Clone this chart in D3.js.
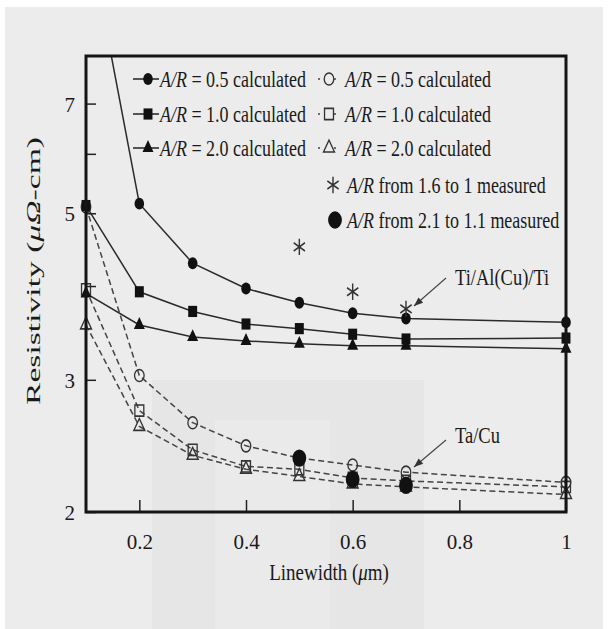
<!DOCTYPE html>
<head>
    <meta charset="utf-8">
    <title>Resistivity vs Linewidth</title>
    <script type="text/javascript" src="https://d3js.org/d3.v7.min.js"></script>
    <style>
        body { margin: 0; background: #fff; }
        svg { display: block; }
        text { font-family: "Liberation Serif", "Times New Roman", serif; fill: #1a1a1a; }
    </style>
</head>

<body>
    <div id="container"></div>
    <script>
        //------------------------1. DATA------------------------//
        var linewidth = [0.1, 0.2, 0.3, 0.4, 0.5, 0.6, 0.7, 1.0];
        // Ti/Al(Cu)/Ti, solid lines
        var tiAr05 = [12.2, 5.15, 4.29, 3.97, 3.80, 3.68, 3.62, 3.58];
        var tiAr10 = [5.12, 3.93, 3.70, 3.56, 3.51, 3.45, 3.40, 3.41];
        var tiAr20 = [3.91, 3.55, 3.42, 3.38, 3.35, 3.33, 3.33, 3.30];
        // Ta/Cu, dashed lines
        var taAr05 = [5.10, 3.04, 2.63, 2.45, 2.36, 2.31, 2.26, 2.19];
        var taAr10 = [3.96, 2.73, 2.42, 2.30, 2.28, 2.22, 2.20, 2.16];
        var taAr20 = [3.55, 2.60, 2.38, 2.28, 2.23, 2.18, 2.16, 2.11];
        // measured
        var starX = [0.5, 0.6, 0.7];
        var starY = [4.51, 3.93, 3.73];
        var dotX = [0.5, 0.6, 0.7];
        var dotY = [2.36, 2.21, 2.17];

        var xTicks = [0.2, 0.4, 0.6, 0.8, 1];
        var yTicks = [2, 3, 4, 5, 6, 7];
        var yLabels = [2, 3, 5, 7];

        var legendLeft = ["0.5", "1.0", "2.0"];

        //------------------------2. PREPARATION------------------------//
        var W = 609, H = 629,
            margin = { top: 56, right: 43, bottom: 117, left: 86 },
            x = d3.scaleLinear().domain([0.1, 1]).range([margin.left, W - margin.right]),
            y = d3.scaleLog().domain([2, 8.1]).range([H - margin.bottom, margin.top]),
            stretch = "scale(1,1.25)";

        var svg = d3.select("div#container").append("svg")
            .attr("width", W).attr("height", H)
            .attr("font-family", "Liberation Serif, serif");

        // scanned page background
        svg.append("rect").attr("x", 5).attr("y", 7).attr("width", W - 11).attr("height", H - 7)
            .attr("fill", "#ececec");
        svg.append("rect").attr("x", 152).attr("y", 380).attr("width", 272).attr("height", H - 380)
            .attr("fill", "#e6e6e6");
        svg.append("rect").attr("x", 215).attr("y", 420).attr("width", 115).attr("height", H - 420)
            .attr("fill", "#eaeaea");

        svg.append("clipPath").attr("id", "plotclip").append("rect")
            .attr("x", x(0.1)).attr("y", y(8.1))
            .attr("width", x(1) - x(0.1)).attr("height", y(2) - y(8.1));

        //------------------------3. MARKERS------------------------//
        function symbolPath(kind, big) {
            if (kind === "circle") return d3.symbol(d3.symbolCircle, big ? 150 : 72)();
            if (kind === "square") return d3.symbol(d3.symbolSquare, 80)();
            if (kind === "triangle") return d3.symbol(d3.symbolTriangle, 52)();
            return d3.symbol(d3.symbolAsterisk, 120)();
        }

        function addMarker(g, kind, open, px, py, big) {
            var p = g.append("path")
                .attr("d", symbolPath(kind, big))
                .attr("transform", "translate(" + px + "," + py + ") " + stretch);
            if (kind === "star") {
                p.attr("fill", "none").attr("stroke", "#333").attr("stroke-width", 1.4);
            } else if (open) {
                p.attr("fill", "none").attr("stroke", "#333").attr("stroke-width", 1.3);
            } else {
                p.attr("fill", "#111");
            }
        }

        //------------------------4. SERIES------------------------//
        var series = [
            { v: taAr05, kind: "circle", open: true },
            { v: taAr10, kind: "square", open: true },
            { v: taAr20, kind: "triangle", open: true },
            { v: tiAr05, kind: "circle", open: false },
            { v: tiAr10, kind: "square", open: false },
            { v: tiAr20, kind: "triangle", open: false }
        ];

        var line = d3.line()
            .x(function (d) { return x(d[0]); })
            .y(function (d) { return y(d[1]); });

        var plot = svg.append("g").attr("clip-path", "url(#plotclip)");
        series.forEach(function (s) {
            plot.append("path")
                .datum(linewidth.map(function (lw, i) { return [lw, s.v[i]]; }))
                .attr("d", line)
                .attr("fill", "none")
                .attr("stroke", s.open ? "#444" : "#2a2a2a")
                .attr("stroke-width", 1.5)
                .attr("stroke-dasharray", s.open ? "6,3.5" : null);
        });

        var marks = svg.append("g");
        series.forEach(function (s) {
            linewidth.forEach(function (lw, i) {
                if (s.v[i] > y.domain()[1]) return;
                addMarker(marks, s.kind, s.open, x(lw), y(s.v[i]));
            });
        });
        starX.forEach(function (d, i) { addMarker(marks, "star", false, x(d), y(starY[i])); });
        dotX.forEach(function (d, i) { addMarker(marks, "circle", false, x(d), y(dotY[i]), true); });

        //------------------------5. AXES------------------------//
        var yAxis = d3.axisLeft(y)
            .tickValues(yTicks)
            .tickSize(-10)
            .tickPadding(11)
            .tickFormat(function (d) { return yLabels.indexOf(d) >= 0 ? d : ""; });
        var gy = svg.append("g").attr("transform", "translate(" + margin.left + ",0)").call(yAxis);

        var xAxis = d3.axisBottom(x)
            .tickValues(xTicks)
            .tickSize(-12)
            .tickPadding(22)
            .tickFormat(function (d) { return String(d); });
        var gx = svg.append("g").attr("transform", "translate(0," + y(2) + ")").call(xAxis);

        [gy, gx].forEach(function (g) {
            g.select(".domain").remove();
            g.selectAll(".tick line").attr("stroke", "#222").attr("stroke-width", 1.5);
            g.selectAll(".tick text")
                .attr("font-family", "Liberation Serif, serif")
                .attr("font-size", 21)
                .attr("fill", "#222");
        });
        gy.selectAll(".tick text").attr("dy", "0.36em");

        // frame
        svg.append("rect")
            .attr("x", x(0.1)).attr("y", y(8.1))
            .attr("width", x(1) - x(0.1)).attr("height", y(2) - y(8.1))
            .attr("fill", "none").attr("stroke", "#151515").attr("stroke-width", 3);

        // axis titles
        var yt = svg.append("text")
            .attr("transform", "translate(40,271) rotate(-90)")
            .attr("text-anchor", "middle")
            .attr("font-size", 19)
            .attr("textLength", 268)
            .attr("lengthAdjust", "spacingAndGlyphs");
        yt.append("tspan").text("Resistivity  (");
        yt.append("tspan").attr("font-style", "italic").text("\u03bc\u03a9");
        yt.append("tspan").text("-cm)");

        var xt = svg.append("text")
            .attr("transform", "translate(329,580) scale(1,1.2)")
            .attr("text-anchor", "middle")
            .attr("font-size", 19);
        xt.append("tspan").text("Linewidth (");
        xt.append("tspan").attr("font-style", "italic").text("\u03bc");
        xt.append("tspan").text("m)");

        //------------------------6. LEGEND------------------------//
        var lg = svg.append("g");
        var rowY = [79, 114, 148, 185, 220];
        var kinds = ["circle", "square", "triangle"];

        function legendText(px, py, rest) {
            var t = lg.append("text")
                .attr("transform", "translate(" + px + "," + (py + 8) + ") " + stretch)
                .attr("font-size", 18);
            t.append("tspan").attr("font-style", "italic").text("A/R");
            t.append("tspan").text(rest);
        }

        legendLeft.forEach(function (r, i) {
            lg.append("line").attr("x1", 133).attr("x2", 159).attr("y1", rowY[i]).attr("y2", rowY[i])
                .attr("stroke", "#222").attr("stroke-width", 1.5);
            addMarker(lg, kinds[i], false, 148, rowY[i]);
            legendText(160, rowY[i], " = " + r + " calculated");

            lg.append("line").attr("x1", 318).attr("x2", 342).attr("y1", rowY[i]).attr("y2", rowY[i])
                .attr("stroke", "#444").attr("stroke-width", 1.5).attr("stroke-dasharray", "2,14");
            addMarker(lg, kinds[i], true, 329, rowY[i]);
            legendText(345, rowY[i], " = " + r + " calculated");
        });
        addMarker(lg, "star", false, 333, rowY[3]);
        legendText(347, rowY[3], " from 1.6 to 1 measured");
        addMarker(lg, "circle", false, 335, rowY[4], true);
        legendText(347, rowY[4], " from 2.1 to 1.1 measured");

        //------------------------7. ANNOTATIONS------------------------//
        function annotate(label, tx, ty, ax1, ay1, ax2, ay2) {
            svg.append("text")
                .attr("transform", "translate(" + tx + "," + ty + ") " + stretch)
                .attr("font-size", 18.5)
                .text(label);
            svg.append("line").attr("x1", ax1).attr("y1", ay1).attr("x2", ax2).attr("y2", ay2)
                .attr("stroke", "#444").attr("stroke-width", 1.1);
            var ang = Math.atan2(ay2 - ay1, ax2 - ax1) * 180 / Math.PI;
            svg.append("path")
                .attr("d", "M0,0L-9,-3.5L-9,3.5Z")
                .attr("transform", "translate(" + ax2 + "," + ay2 + ") rotate(" + ang + ")")
                .attr("fill", "#333");
        }
        annotate("Ti/Al(Cu)/Ti", 455, 285, 446, 278, 414, 306);
        annotate("Ta/Cu", 455, 443, 446, 440, 414, 467);
    </script>
</body>
